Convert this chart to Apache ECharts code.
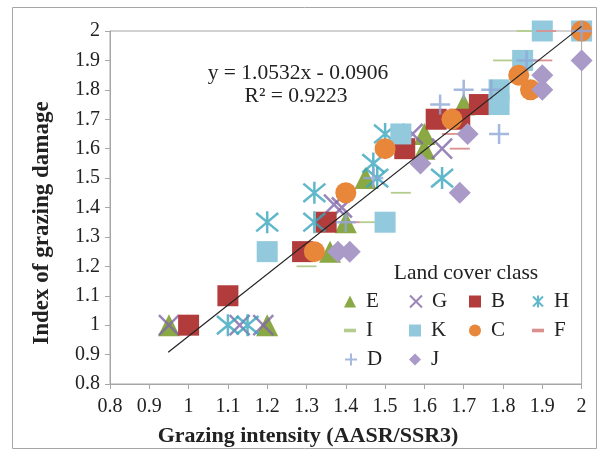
<!DOCTYPE html>
<html><head><meta charset="utf-8">
<script src="https://cdn.jsdelivr.net/npm/echarts@6/dist/echarts.min.js"></script>
<style>html,body{margin:0;padding:0;background:#fff}#c{width:603px;height:458px}</style>
</head><body><div id="c"></div>
<script>
// ---- data ----
const seriesNames = ['E','G','B','H','I','K','C','F','D','J'];
const E_pts = [[0.95,1.0],[1.2,1.0],[1.36,1.25],[1.4,1.35],[1.45,1.5],[1.6,1.6],[1.6,1.65],[1.7,1.75]];
const G_pts = [[0.95,1.0],[1.13,1.0],[1.19,1.0],[1.37,1.41],[1.39,1.4],[1.57,1.65],[1.645,1.6]];
const B_pts = [[1.0,1.0],[1.1,1.1],[1.29,1.25],[1.35,1.35],[1.55,1.6],[1.63,1.7],[1.69,1.7],[1.74,1.75]];
const H_pts = [[1.1,1.0],[1.15,1.0],[1.2,1.35],[1.32,1.35],[1.32,1.45],[1.47,1.55],[1.48,1.5],[1.5,1.65],[1.645,1.5]];
const I_pts = [[1.3,1.2],[1.46,1.35],[1.54,1.45],[1.8,1.9],[1.86,2.0]];
const K_pts = [[1.2,1.25],[1.5,1.35],[1.54,1.65],[1.79,1.75],[1.79,1.8],[1.85,1.9],[1.9,2.0],[2.0,2.0]];
const C_pts = [[1.32,1.25],[1.4,1.45],[1.5,1.6],[1.67,1.7],[1.87,1.8],[1.84,1.85],[2.0,2.0]];
const F_pts = [[1.41,1.35],[1.69,1.6],[1.67,1.65],[1.9,1.9],[1.91,2.0],[2.0,2.0]];
const D_pts = [[1.4,1.35],[1.47,1.5],[1.79,1.65],[1.64,1.75],[1.7,1.8],[1.77,1.8],[1.86,1.9],[2.0,2.0]];
const J_pts = [[1.38,1.25],[1.41,1.25],[1.69,1.45],[1.59,1.55],[1.71,1.65],[1.9,1.8],[1.9,1.85],[2.0,1.9]];
const trendSlope = 1.0532, trendIntercept = -0.0906;
const trendX = [0.948, 2.0];
const xTicks = [0.8,0.9,1,1.1,1.2,1.3,1.4,1.5,1.6,1.7,1.8,1.9,2];
const yTicks = [0.8,0.9,1,1.1,1.2,1.3,1.4,1.5,1.6,1.7,1.8,1.9,2];
const xTitle = 'Grazing intensity (AASR/SSR3)';
const yTitle = 'Index of grazing damage';
const legendTitle = 'Land cover class';
const eqText = 'y = 1.0532x - 0.0906';
const r2Text = 'R² = 0.9223';
// ---------------------------------------

const FONT = '"Liberation Serif","Times New Roman",serif';
const P_X = 'path://M0,0 L10,10 M10,0 L0,10';
const P_AST = 'path://M0,0 L10,10 M10,0 L0,10 M5,-1 L5,11';
const P_PLUS = 'path://M5,0 L5,10 M0,5 L10,5';
const P_DASH = 'path://M0,0 L10,0 L10,3 L0,3 Z';

const styles = {
  E:{symbol:'triangle', size:22, color:'#8AA843'},
  G:{symbol:P_X, size:20, stroke:'#8166A9'},
  B:{symbol:'rect', size:21, color:'#B23C3B'},
  H:{symbol:P_AST, size:22, stroke:'#3AA6BD'},
  I:{symbol:P_DASH, size:[20,6], color:'#B4CD8E', keep:true},
  K:{symbol:'rect', size:21, color:'#92C9DC'},
  C:{symbol:'circle', size:21, color:'#E8873A'},
  F:{symbol:P_DASH, size:[20,6], color:'#DA908E', keep:true},
  D:{symbol:P_PLUS, size:20, stroke:'#8EA7D7'},
  J:{symbol:'diamond', size:22, color:'#A99AC8'}
};
const dataMap = {E:E_pts,G:G_pts,B:B_pts,H:H_pts,I:I_pts,K:K_pts,C:C_pts,F:F_pts,D:D_pts,J:J_pts};

const series = seriesNames.map(n => {
  const s = styles[n];
  const itemStyle = s.stroke ? {color:'rgba(0,0,0,0)', borderColor:s.stroke, borderWidth:2.5} : {color:s.color, opacity:1};
  return {
    name:n, type:'scatter', data:dataMap[n], symbol:s.symbol, symbolSize:s.size,
    symbolKeepAspect: !!s.keep, itemStyle, emphasis:{disabled:true}, animation:false
  };
});
series.push({
  name:'trend', type:'line', data: trendX.map(x => [x, trendSlope*x + trendIntercept]),
  showSymbol:false, symbol:'none', clip:false, lineStyle:{color:'#222', width:1.2}, z:10, animation:false
});

const legendCols = [344,409,469,532];
const legendRows = [291,320,349];
const legends = seriesNames.map((n,i) => ({
  data:[n], left: legendCols[i%4], top: legendRows[Math.floor(i/4)], padding:0,
  itemWidth:12, itemHeight:12, itemGap:0,
  textStyle:{fontFamily:FONT, fontSize:21, color:'#222', padding:[0,0,0,5]},
  selectedMode:false
}));

const chart = echarts.init(document.getElementById('c'), null, {renderer:'canvas'});
chart.setOption({
  animation:false,
  backgroundColor:'#fff',
  grid:{left:110, top:31, right:21.4, bottom:74, show:true, borderColor:'#A6A6A6', borderWidth:1},
  xAxis:{type:'value', min:xTicks[0], max:xTicks[xTicks.length-1], interval:0.1,
    axisLine:{lineStyle:{color:'#A6A6A6'}}, axisTick:{show:true, length:5, lineStyle:{color:'#A6A6A6'}},
    splitLine:{show:false},
    axisLabel:{fontFamily:FONT, fontSize:20, color:'#222', margin:13, formatter:v=>String(+v.toFixed(1))}},
  yAxis:{type:'value', min:yTicks[0], max:yTicks[yTicks.length-1], interval:0.1,
    axisLine:{show:true, lineStyle:{color:'#A6A6A6'}}, axisTick:{show:true, length:5, lineStyle:{color:'#A6A6A6'}},
    splitLine:{show:false},
    axisLabel:{fontFamily:FONT, fontSize:20, color:'#222', margin:10, formatter:v=>String(+v.toFixed(1))}},
  legend: legends,
  graphic:[
    {type:'rect', shape:{x:12.5, y:7.5, width:584, height:441}, style:{fill:'none', stroke:'#A6A6A6', lineWidth:1}, z:-1, silent:true},
    {type:'text', x:308, y:436, style:{text:xTitle, font:'bold 22px '+FONT, fill:'#222', textAlign:'center', textVerticalAlign:'middle'}},
    {type:'text', x:42, y:223, rotation:Math.PI/2, style:{text:yTitle, font:'bold 23px '+FONT, fill:'#222', textAlign:'center', textVerticalAlign:'middle'}},
    {type:'text', x:298, y:73, style:{text:eqText, font:'21.5px '+FONT, fill:'#222', textAlign:'center', textVerticalAlign:'middle'}},
    {type:'text', x:296, y:96, style:{text:r2Text, font:'21.5px '+FONT, fill:'#222', textAlign:'center', textVerticalAlign:'middle'}},
    {type:'text', x:466, y:273, style:{text:legendTitle, font:'21.5px '+FONT, fill:'#222', textAlign:'center', textVerticalAlign:'middle'}}
  ],
  series
});
</script></body></html>
